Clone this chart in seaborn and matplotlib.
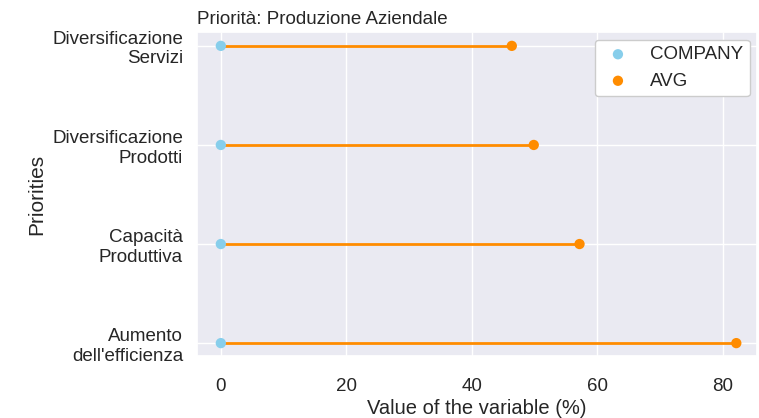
import matplotlib.pyplot as plt
import seaborn as sns
import pandas as pd

sns.set_theme(style="darkgrid")
plt.rcParams['font.family'] = ['Liberation Sans', 'DejaVu Sans']

# priorities, bottom to top
priorities = ["Aumento\ndell'efficienza", "Capacità\nProduttiva",
              "Diversificazione\nProdotti", "Diversificazione\nServizi"]
company = [0, 0, 0, 0]
avg = [82.2, 57.2, 49.9, 46.4]

df = pd.DataFrame({'Priority': priorities, 'COMPANY': company, 'AVG': avg})
df['pos'] = range(len(df))

fig = plt.figure(figsize=(7.59, 4.18), dpi=100)
ax = fig.add_axes([197/759, 1-356/418, 560/759, 324/418])

ax.hlines(y=df['pos'], xmin=df['COMPANY'], xmax=df['AVG'], color='darkorange', linewidth=2)
sns.scatterplot(data=df, x='COMPANY', y='pos', color='skyblue', s=55, edgecolor='none',
                label='COMPANY', ax=ax, zorder=3)
sns.scatterplot(data=df, x='AVG', y='pos', color='darkorange', s=55, edgecolor='none',
                label='AVG', ax=ax, zorder=3)

ax.set_yticks(df['pos'])
ax.set_yticklabels(df['Priority'], fontsize=13.5, ha='right', multialignment='right')
ax.set_xticks([0, 20, 40, 60, 80])
ax.tick_params(axis='x', labelsize=13.5, pad=10)
ax.tick_params(axis='y', pad=4)
ax.set_xlim(-3.8, 85.5)
ax.set_ylim(-0.13, 3.14)
ax.set_xlabel('Value of the variable (%)', fontsize=14.5, labelpad=3)
ax.set_ylabel('Priorities', fontsize=15)
ax.set_title('Priorità: Produzione Aziendale', loc='left', fontsize=13.5)
ax.legend(loc='upper right', fontsize=13.5, labelspacing=0.5, facecolor='white',
          framealpha=1, handletextpad=0.8, handlelength=1.8, borderpad=0.35,
          borderaxespad=0.4)

fig.savefig('out.png', dpi=100)
